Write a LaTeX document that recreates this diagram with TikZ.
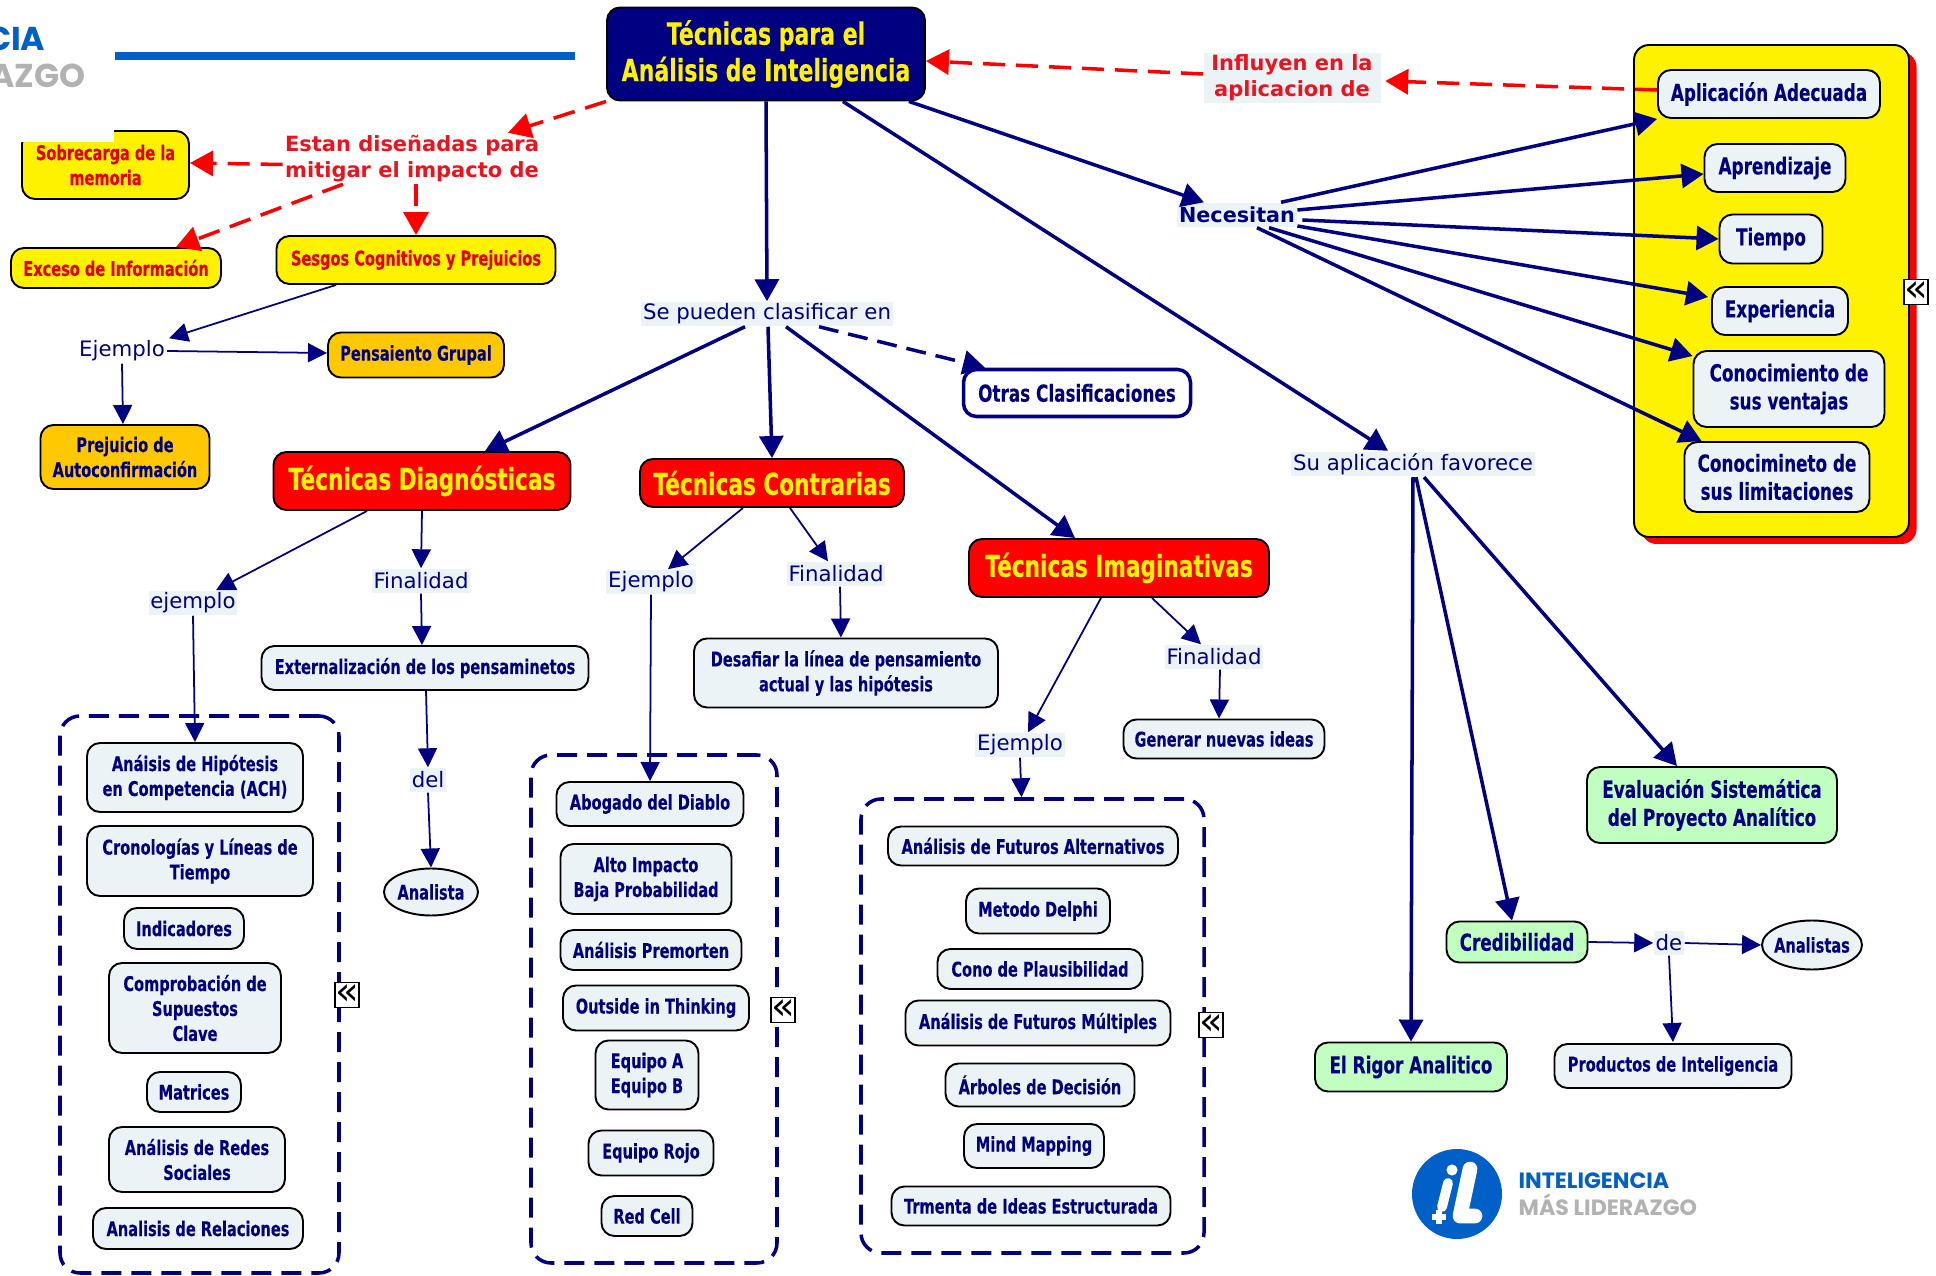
\documentclass[tikz,border=0pt]{standalone}
\usepackage{fontspec}
\usetikzlibrary{arrows.meta,positioning,shapes.geometric}
\newfontfamily\boxfont{DejaVu Sans}[FakeStretch=.72,FakeBold=.25]
\newfontfamily\labelfont{DejaVu Sans}
\newfontfamily\logofont{Poppins}
\definecolor{navy}{RGB}{0,0,128}
\definecolor{paleblue}{RGB}{235,243,246}
\definecolor{amber}{RGB}{255,200,0}
\definecolor{mint}{RGB}{192,255,192}
\definecolor{logoblue}{RGB}{0,96,200}
\definecolor{logogrey}{RGB}{178,178,178}
\definecolor{redtext}{RGB}{235,20,30}
\tikzset{
    boxsize/.style 2 args={minimum width=#1cm,minimum height=#2cm},
    concept/.style={draw=black,line width=.55pt,rounded corners=.13cm,inner sep=0pt,align=center,text=navy,fill=paleblue,font=\boxfont\bfseries\fontsize{5.76}{7.1}\selectfont},
    panelbox/.style={concept,font=\boxfont\bfseries\fontsize{6.65}{8}\selectfont},
    warning/.style={concept,fill=yellow,text=red!90!black},
    family/.style={concept,fill=red,text=yellow,font=\boxfont\bfseries\fontsize{8.55}{10}\selectfont},
    oval/.style={concept,ellipse,inner xsep=-.05cm},
    word/.style={inner sep=.5pt,minimum height=.24cm,text=navy,fill=paleblue,font=\labelfont\fontsize{6.05}{7}\selectfont},
    redword/.style={inner sep=.5pt,align=center,text=redtext,font=\labelfont\bfseries\fontsize{5.97}{7.3}\selectfont},
    group/.style={draw=navy,line width=1pt,dash pattern=on .2cm off .1cm,rounded corners=.2cm,inner sep=0pt},
    fold/.style={draw=black,fill=white,line width=.4pt,inner sep=0pt,boxsize={.22}{.25},text=black,font=\labelfont\fontsize{11}{11}\selectfont},
    thick link/.style={-{Triangle[length=.22cm,width=.24cm]},navy,line width=1pt},
    thin link/.style={-{Triangle[length=.19cm,width=.19cm]},navy,line width=.5pt},
    red link/.style={-{Triangle[length=.23cm,width=.25cm]},red,line width=1pt,dash pattern=on .22cm off .11cm},
}
\begin{document}
\begin{tikzpicture}
    \clip (0,0) rectangle (19.36,12.75);

    % header and logos
    \fill[logoblue] (1.15,12.15) rectangle (5.75,12.23);
    \node[inner sep=0pt,anchor=east,text=logoblue,font=\logofont\bfseries\fontsize{9.4}{10}\selectfont] (headtop) at (.46,12.36) {CIA};
    \node[inner sep=0pt,anchor=east,text=logogrey,font=\logofont\bfseries\fontsize{9.4}{10}\selectfont] (headbot) at (.86,11.99) {AZGO};
    \node[circle,fill=logoblue,minimum size=.9cm,inner sep=0pt] (badge) at (14.57,.81) {};
    \draw[white,line width=.3pt,fill=white] ([shift={(-.05,.24)}]badge.center) circle (.05);
    \draw[white,line width=2.8pt,line cap=round] ([shift={(-.09,.11)}]badge.center) -- ([shift={(-.15,-.13)}]badge.center);
    \draw[white,line width=4.2pt,line cap=round,line join=round] ([shift={(.13,.25)}]badge.center) -- ([shift={(.03,-.22)}]badge.center) -- ([shift={(.18,-.22)}]badge.center);
    \draw[white,line width=1.6pt] ([shift={(-.25,-.23)}]badge.center) -- ([shift={(-.11,-.23)}]badge.center) ([shift={(-.18,-.16)}]badge.center) -- ([shift={(-.18,-.3)}]badge.center);
    \node[inner sep=0pt,anchor=west,text=logoblue,font=\logofont\bfseries\fontsize{6.3}{7}\selectfont] (logotop) at (15.18,.94) {INTELIGENCIA};
    \node[inner sep=0pt,anchor=west,text=logogrey,font=\logofont\bfseries\fontsize{6.3}{7}\selectfont] (logobot) at (15.18,.7) {MÁS LIDERAZGO};

    % top of the map
    \node[family,fill=navy,boxsize={3.18}{.93},font=\boxfont\bfseries\fontsize{8.7}{10.4}\selectfont] (title) at (7.66,12.21) {Técnicas para el\\Análisis de Inteligencia};
    \node[redword] (estan) at (4.12,11.165) {Estan diseñadas para\\mitigar el impacto de};
    \node[redword,fill=paleblue,boxsize={1.77}{.49}] (influyen) at (12.92,11.97) {Influyen en la\\aplicacion de};
    \node[warning,boxsize={1.67}{.68}] (sobrecarga) at (1.055,11.1) {Sobrecarga de la\\memoria};
    \fill[white] (0,11.33) rectangle (1.14,11.8);
    \node[warning,boxsize={2.1}{.4}] (exceso) at (1.16,10.07) {Exceso de Información};
    \node[warning,boxsize={2.79}{.48}] (sesgos) at (4.16,10.15) {Sesgos Cognitivos y Prejuicios};
    \node[word,fill=none] (ejemplosesgo) at (1.22,9.24) {Ejemplo};
    \node[concept,fill=amber,boxsize={1.76}{.45}] (pensamiento) at (4.16,9.2) {Pensaiento Grupal};
    \node[concept,fill=amber,boxsize={1.69}{.64}] (prejuicio) at (1.25,8.18) {Prejuicio de\\Autoconfirmación};
    \node[word] (clasifica) at (7.67,9.61) {Se pueden clasificar en};
    \node[panelbox,fill=white,draw=navy,line width=1pt,boxsize={2.27}{.47}] (otras) at (10.77,8.82) {Otras Clasificaciones};

    % the three families
    \node[family,boxsize={2.97}{.58}] (diagnostica) at (4.22,7.94) {Técnicas Diagnósticas};
    \node[family,boxsize={2.64}{.48}] (contraria) at (7.72,7.92) {Técnicas Contrarias};
    \node[family,boxsize={3}{.58}] (imaginativa) at (11.19,7.07) {Técnicas Imaginativas};

    \node[word] (ejemplodiag) at (1.93,6.72) {ejemplo};
    \node[word] (findiag) at (4.21,6.94) {Finalidad};
    \node[concept,boxsize={3.27}{.44}] (externa) at (4.25,6.07) {Externalización de los pensaminetos};
    \node[word] (del) at (4.28,4.95) {del};
    \node[oval,boxsize={.94}{.47}] (analista) at (4.31,3.83) {Analista};

    \node[word] (ejemplocontra) at (6.51,6.93) {Ejemplo};
    \node[word] (fincontra) at (8.36,7.01) {Finalidad};
    \node[concept,boxsize={3.04}{.69}] (desafiar) at (8.46,6.02) {Desafiar la línea de pensamiento\\actual y las hipótesis};

    \node[word] (ejemploimag) at (10.2,5.3) {Ejemplo};
    \node[word] (finimag) at (12.14,6.18) {Finalidad};
    \node[concept,boxsize={2.01}{.39}] (generar) at (12.24,5.36) {Generar nuevas ideas};

    % dashed groups with their lists
    \node[group,boxsize={2.79}{5.57}] (groupdiag) at (1.995,2.805) {};
    \node[group,boxsize={2.46}{5.08}] (groupcontra) at (6.54,2.66) {};
    \node[group,boxsize={3.43}{4.54}] (groupimag) at (10.325,2.49) {};
    \node[fold] (folddiag) at (3.47,2.8) {«};
    \node[fold] (foldcontra) at (7.83,2.65) {«};
    \node[fold] (foldimag) at (12.11,2.5) {«};

    \node[concept,boxsize={2.16}{.69}] (ach) at (1.95,4.975) {Anáisis de Hipótesis\\en Competencia (ACH)};
    \node[concept,boxsize={2.26}{.7},below of=ach,node distance=.835cm,xshift=.05cm] (cronologia) {Cronologías y Líneas de\\Tiempo};
    \node[concept,boxsize={1.2}{.41},below of=cronologia,node distance=.675cm,xshift=-.16cm] (indicadores) {Indicadores};
    \node[concept,boxsize={1.72}{.9},below of=indicadores,node distance=.795cm,xshift=.11cm] (supuestos) {Comprobación de\\Supuestos\\Clave};
    \node[concept,boxsize={.94}{.4},below of=supuestos,node distance=.84cm,xshift=-.01cm] (matrices) {Matrices};
    \node[concept,boxsize={1.76}{.65},below of=matrices,node distance=.675cm,xshift=.03cm] (redes) {Análisis de Redes\\Sociales};
    \node[concept,boxsize={2.1}{.41},below of=redes,node distance=.69cm,xshift=.01cm] (relaciones) {Analisis de Relaciones};

    \node[concept,boxsize={1.87}{.44}] (abogado) at (6.5,4.71) {Abogado del Diablo};
    \node[concept,boxsize={1.71}{.7},below of=abogado,node distance=.75cm,xshift=-.04cm] (impacto) {Alto Impacto\\Baja Probabilidad};
    \node[concept,boxsize={1.81}{.4},below of=impacto,node distance=.71cm,xshift=.05cm] (premorten) {Análisis Premorten};
    \node[concept,boxsize={1.86}{.45},below of=premorten,node distance=.58cm,xshift=.05cm] (outside) {Outside in Thinking};
    \node[concept,boxsize={1.03}{.69},below of=outside,node distance=.67cm,xshift=-.09cm] (equipos) {Equipo A\\Equipo B};
    \node[concept,boxsize={1.25}{.45},below of=equipos,node distance=.78cm,xshift=.04cm] (rojo) {Equipo Rojo};
    \node[concept,boxsize={.91}{.4},below of=rojo,node distance=.63cm,xshift=-.04cm] (redcell) {Red Cell};

    \node[concept,boxsize={2.9}{.39}] (alternativos) at (10.33,4.29) {Análisis de Futuros Alternativos};
    \node[concept,boxsize={1.44}{.45},below of=alternativos,node distance=.65cm,xshift=.05cm] (delphi) {Metodo Delphi};
    \node[concept,boxsize={2.05}{.4},below of=delphi,node distance=.58cm,xshift=.02cm] (cono) {Cono de Plausibilidad};
    \node[concept,boxsize={2.65}{.45},below of=cono,node distance=.54cm,xshift=-.02cm] (multiples) {Análisis de Futuros Múltiples};
    \node[concept,boxsize={1.89}{.43},below of=multiples,node distance=.62cm,xshift=.02cm] (arboles) {Árboles de Decisión};
    \node[concept,boxsize={1.4}{.44},below of=arboles,node distance=.61cm,xshift=-.06cm] (mind) {Mind Mapping};
    \node[concept,boxsize={2.79}{.39},below of=mind,node distance=.6cm,xshift=-.03cm] (tormenta) {Trmenta de Ideas Estructurada};

    % right panel
    \node[fill=red,rounded corners=.15cm,boxsize={2.75}{4.92},inner sep=0pt] (panelshadow) at (17.79,9.77) {};
    \node[draw=black,fill=yellow,line width=.55pt,rounded corners=.15cm,boxsize={2.75}{4.92},inner sep=0pt] (panel) at (17.715,9.84) {};
    \node[fold] (foldpanel) at (19.16,9.83) {«};
    \node[panelbox,boxsize={2.22}{.48}] (aplicacion) at (17.69,11.81) {Aplicación Adecuada};
    \node[panelbox,boxsize={1.41}{.48},below of=aplicacion,node distance=.74cm,xshift=.06cm] (aprendizaje) {Aprendizaje};
    \node[panelbox,boxsize={1.03}{.49},below of=aprendizaje,node distance=.71cm,xshift=-.04cm] (tiempo) {Tiempo};
    \node[panelbox,boxsize={1.36}{.48},below of=tiempo,node distance=.72cm,xshift=.09cm] (experiencia) {Experiencia};
    \node[panelbox,boxsize={1.91}{.76},below of=experiencia,node distance=.78cm,xshift=.09cm] (ventajas) {Conocimiento de\\sus ventajas};
    \node[panelbox,boxsize={1.85}{.7},below of=ventajas,node distance=.88cm,xshift=-.12cm] (limitaciones) {Conocimineto de\\sus limitaciones};

    \node[word,font=\labelfont\bfseries\fontsize{5.9}{7}\selectfont] (necesitan) at (12.37,10.6) {Necesitan};
    \node[word] (favorece) at (14.13,8.11) {Su aplicación favorece};

    % right bottom
    \node[panelbox,fill=mint,boxsize={2.5}{.76}] (evaluacion) at (17.12,4.7) {Evaluación Sistemática\\del Proyecto Analítico};
    \node[panelbox,fill=mint,boxsize={1.41}{.41}] (credibilidad) at (15.17,3.33) {Credibilidad};
    \node[word] (de) at (16.69,3.32) {de};
    \node[oval,boxsize={1}{.49}] (analistas) at (18.12,3.3) {Analistas};
    \node[panelbox,fill=mint,boxsize={1.92}{.49}] (rigor) at (14.11,2.08) {El Rigor Analitico};
    \node[concept,boxsize={2.37}{.44}] (productos) at (16.73,2.09) {Productos de Inteligencia};

    % red links
    \draw[red link] (title.south west) -- ([xshift=.96cm]estan.north);
    \draw[red link] ([yshift=-.06cm]estan.west) -- ([yshift=.02cm]sobrecarga.east);
    \draw[red link] ([xshift=-.69cm]estan.south) -- ([xshift=.6cm]exceso.north);
    \draw[red link] ([xshift=.04cm]estan.south) -- (sesgos.north);
    \draw[red link] ([yshift=.04cm]influyen.west) -- ([yshift=-.07cm]title.east);
    \draw[red link] ([yshift=.04cm]aplicacion.west) -- ([xshift=.04cm,yshift=-.03cm]influyen.east);

    % links out of the title
    \draw[thick link] (title.south) -- (clasifica.north);
    \draw[thick link] ([xshift=-.17cm]title.south east) -- ([xshift=-.33cm]necesitan.north);
    \draw[thick link] ([xshift=-.83cm]title.south east) -- ([xshift=-.25cm]favorece.north);

    \draw[thick link] ([xshift=-.22cm]clasifica.south) -- ([xshift=.63cm]diagnostica.north);
    \draw[thick link] ([xshift=.01cm]clasifica.south) -- (contraria.north);
    \draw[thick link] ([xshift=.19cm]clasifica.south) -- ([xshift=-.44cm]imaginativa.north);
    \draw[thick link,dash pattern=on .2cm off .1cm] ([xshift=.52cm]clasifica.south) -- ([xshift=-.92cm]otras.north);

    \draw[thick link] ([xshift=.44cm]necesitan.north) -- (aplicacion.south west);
    \draw[thick link] ([yshift=.05cm]necesitan.east) -- ([yshift=-.06cm]aprendizaje.west);
    \draw[thick link] ([xshift=.05cm,yshift=-.05cm]necesitan.east) -- (tiempo.west);
    \draw[thick link] ([yshift=-.11cm]necesitan.east) -- ([xshift=-.03cm,yshift=.14cm]experiencia.west);
    \draw[thick link] ([xshift=.32cm]necesitan.south) -- ([yshift=-.06cm]ventajas.north west);
    \draw[thick link] ([xshift=.2cm]necesitan.south) -- ([xshift=.18cm]limitaciones.north west);

    \draw[thick link] (favorece.south) -- (rigor.north);
    \draw[thick link] ([xshift=.03cm]favorece.south) -- ([xshift=-.05cm]credibilidad.north);
    \draw[thick link] ([xshift=.11cm]favorece.south) -- ([xshift=-.35cm]evaluacion.north);

    % thin links
    \draw[thin link] ([xshift=-.8cm]sesgos.south) -- ([xshift=.47cm]ejemplosesgo.north);
    \draw[thin link] (ejemplosesgo.east) -- ([yshift=.02cm]pensamiento.west);
    \draw[thin link] (ejemplosesgo.south) -- ([xshift=-.02cm]prejuicio.north);

    \draw[thin link] ([xshift=-.55cm]diagnostica.south) -- ([xshift=.23cm]ejemplodiag.north);
    \draw[thin link] (diagnostica.south) -- (findiag.north);
    \draw[thin link] (findiag.south) -- ([xshift=-.03cm]externa.north);
    \draw[thin link] ([xshift=.01cm]externa.south) -- (del.north);
    \draw[thin link] (del.south) -- (analista.north);
    \draw[thin link] (ejemplodiag.south) -- (ach.north);

    \draw[thin link] ([xshift=-.29cm]contraria.south) -- ([xshift=.17cm]ejemplocontra.north);
    \draw[thin link] ([xshift=.18cm]contraria.south) -- ([xshift=-.08cm]fincontra.north);
    \draw[thin link] ([xshift=.04cm]fincontra.south) -- ([xshift=-.05cm]desafiar.north);
    \draw[thin link] (ejemplocontra.south) -- (abogado.north);

    \draw[thin link] ([xshift=-.18cm]imaginativa.south) -- ([xshift=.08cm]ejemploimag.north);
    \draw[thin link] ([xshift=.33cm]imaginativa.south) -- ([xshift=-.13cm]finimag.north);
    \draw[thin link] ([xshift=.06cm]finimag.south) -- ([xshift=-.05cm]generar.north);
    \draw[thin link] (ejemploimag.south) -- ([xshift=-.11cm]groupimag.north);

    \draw[thin link] (credibilidad.east) -- (de.west);
    \draw[thin link] (de.east) -- (analistas.west);
    \draw[thin link] (de.south) -- ([yshift=.01cm]productos.north);
\end{tikzpicture}
\end{document}
